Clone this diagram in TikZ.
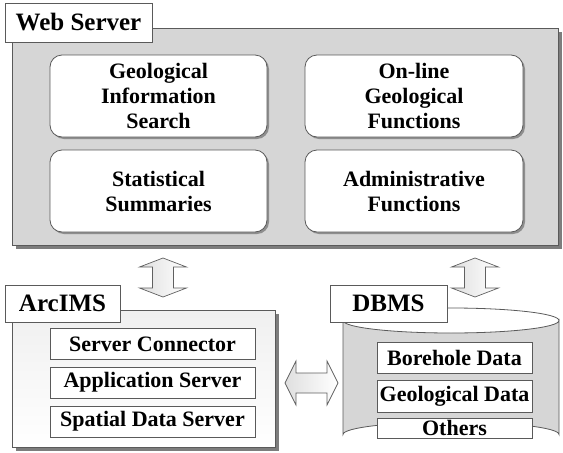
\documentclass[tikz,border=0pt]{standalone}
\usepackage{fontspec}
\setmainfont{Liberation Serif}
\usetikzlibrary{shadows}
\definecolor{panel}{RGB}{214,214,214}
\definecolor{shade}{RGB}{125,125,125}
\definecolor{edge}{RGB}{90,90,90}
\begin{document}
\begin{tikzpicture}[x=1pt,y=-1pt,
  font=\bfseries\fontsize{22}{25}\selectfont,
  panelbox/.style={draw=edge, fill=panel, line width=0.8pt, inner sep=0pt,
    drop shadow={shadow xshift=4pt, shadow yshift=-4pt, fill=shade, opacity=1}},
  lightpanel/.style={draw=edge, line width=0.8pt, inner sep=0pt,
    top color=gray!12, bottom color=white,
    drop shadow={shadow xshift=4pt, shadow yshift=-4pt, fill=shade, opacity=1}},
  titlebox/.style={draw=edge, fill=white, line width=0.8pt, inner sep=0pt,
    font=\bfseries\fontsize{25}{28}\selectfont},
  funcbox/.style={draw=edge, fill=white, line width=0.8pt, rounded corners=12pt,
    inner sep=0pt, align=center,
    drop shadow={shadow xshift=2pt, shadow yshift=-2pt, fill=shade, opacity=0.8}},
  itembox/.style={draw=edge, fill=white, line width=0.8pt, inner sep=0pt},
  blockarrow/.style={draw=gray!75!black, line width=0.7pt, left color=gray!25, right color=white}
]
\useasboundingbox (0,0) rectangle (563,453);

% Web server
\node[panelbox, minimum width=546, minimum height=217] (web) at (285,136.5) {};
\node[titlebox, minimum width=147, minimum height=39] (webt) at (78.5,22.5) {Web Server};
\node[funcbox, minimum width=217, minimum height=82] (gis) at (158.5,96) {Geological\\Information\\Search};
\node[funcbox, minimum width=217, minimum height=82] (stat) at (158.5,191) {Statistical\\Summaries};
\node[funcbox, minimum width=218, minimum height=82] (onl) at (414,96) {On-line\\Geological\\Functions};
\node[funcbox, minimum width=218, minimum height=82] (adm) at (414,191) {Administrative\\Functions};

% ArcIMS
\node[lightpanel, minimum width=263, minimum height=137] (arc) at (143.5,378.5) {};
\node[titlebox, minimum width=115, minimum height=37] (arct) at (62.5,303.5) {ArcIMS};
\node[itembox, minimum width=205, minimum height=31] (sc) at (152.5,344) {Server Connector};
\node[itembox, minimum width=205, minimum height=31] (as) at (152.5,382.5) {Application Server};
\node[itembox, minimum width=205, minimum height=31] (sds) at (152.5,421.5) {Spatial Data Server};

% DBMS cylinder
\coordinate (cyl) at (451,320.5);
\draw[draw=edge, fill=panel, line width=0.8pt]
  (343,320.5) -- (343,434.5) arc[start angle=180, end angle=360, x radius=108, y radius=12.5]
  -- (559,320.5) arc[start angle=0, end angle=180, x radius=108, y radius=12.5] -- cycle;
\draw[draw=edge, line width=0.8pt] (343,320.5) arc[start angle=180, end angle=360, x radius=108, y radius=12.5];
\node[titlebox, minimum width=117, minimum height=37] (dbt) at (388.5,303.5) {DBMS};
\node[itembox, minimum width=155, minimum height=31] (bh) at (454.5,357.5) {Borehole Data};
\node[itembox, minimum width=155, minimum height=32] (gd) at (454.5,396) {Geological Data};
\node[itembox, minimum width=155, minimum height=20] (oth) at (454.5,428) {Others};

% block arrows
\draw[blockarrow] (163,258) -- (186.5,267) -- (173.5,267) -- (173.5,288) -- (186.5,288)
  -- (163,297) -- (139.5,288) -- (152.5,288) -- (152.5,267) -- (139.5,267) -- cycle;
\draw[blockarrow] (475,258) -- (498.5,267) -- (485.5,267) -- (485.5,288) -- (498.5,288)
  -- (475,297) -- (451.5,288) -- (464.5,288) -- (464.5,267) -- (451.5,267) -- cycle;
\draw[blockarrow] (285,383) -- (296,361) -- (296,373) -- (327,373) -- (327,361)
  -- (338,383) -- (327,405) -- (327,393) -- (296,393) -- (296,405) -- cycle;
\end{tikzpicture}
\end{document}
